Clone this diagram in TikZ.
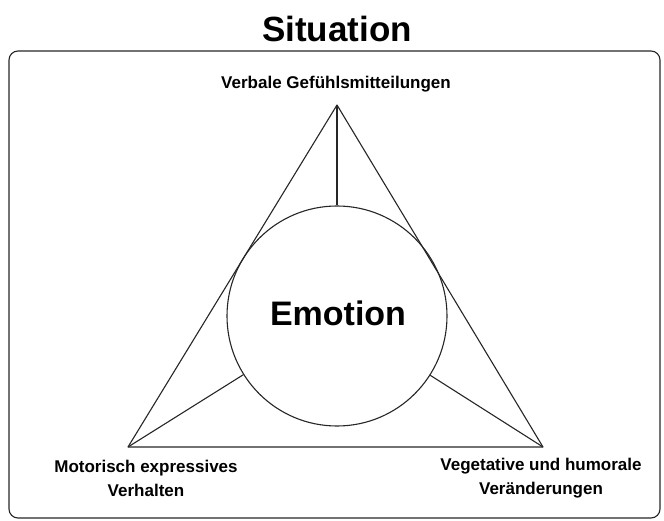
\documentclass[tikz,border=0pt]{standalone}
\usepackage{fontspec}
\setmainfont{Liberation Sans}
\begin{document}
\begin{tikzpicture}[x=1pt,y=-1pt,
  line/.style={draw=black!85,line width=1.1pt},
  small/.style={font=\fontsize{17}{24}\selectfont\bfseries,align=center,inner sep=0pt},
  big/.style={font=\fontsize{35}{40}\selectfont\bfseries,inner sep=0pt}]
\useasboundingbox (0,0) rectangle (664,521);
\draw[line,rounded corners=9pt] (9,51) rectangle (660,518);
\node[big] (sit) at (337,29) {Situation};
\coordinate (A) at (337,105);
\coordinate (B) at (128,447);
\coordinate (C) at (543,447);
\node[circle,line,minimum size=220pt,inner sep=0pt] (emo) at (337,316) {};
\node[big,font=\fontsize{34}{40}\selectfont\bfseries] (emotxt) at (338,313) {Emotion};
\draw[line,line join=round] (A) -- (B) -- (C) -- cycle;
\draw[line] (A) -- (emo);
\draw[line] (B) -- (emo);
\draw[line] (C) -- (emo);
\node[small] (v) at (336,84) {Verbale Gefühlsmitteilungen};
\node[small] (m) at (146,478) {Motorisch expressives\\Verhalten};
\node[small] (h) at (541,478) {Vegetative und humorale\\Veränderungen};
\end{tikzpicture}
\end{document}
